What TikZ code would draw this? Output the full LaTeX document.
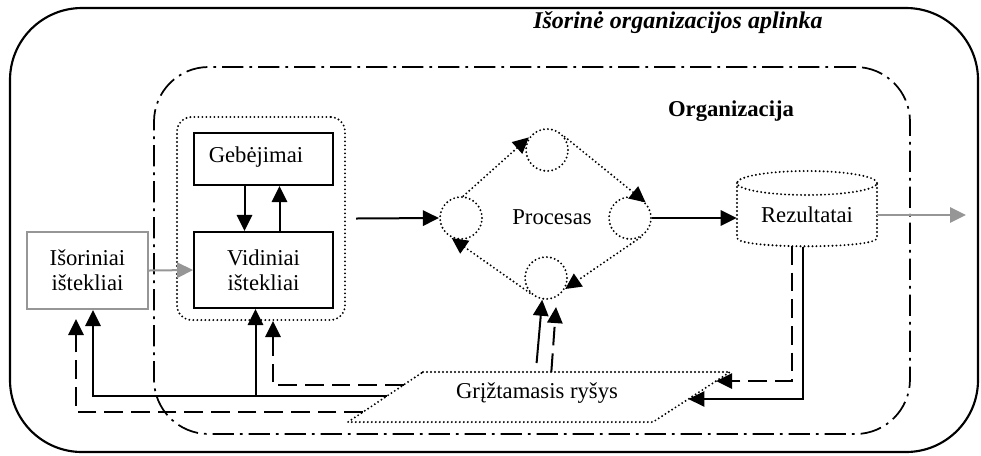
\documentclass[tikz,border=0pt]{standalone}
\usepackage{fontspec}
\setmainfont{Liberation Serif}
\usetikzlibrary{arrows.meta,calc}
\definecolor{midgrey}{RGB}{150,150,150}
\begin{document}
\begin{tikzpicture}[x=0.75pt,y=-0.75pt,
  every node/.style={font=\fontsize{17}{18.75}\selectfont, inner sep=0pt},
  frame/.style={draw, line width=1.6pt, rounded corners=54pt},
  orgframe/.style={draw, line width=1.3pt, rounded corners=41pt,
                   dash pattern=on 16pt off 4.5pt on 2pt off 4.5pt},
  dotline/.style={line width=1.6pt, line cap=round, dash pattern=on 0pt off 3pt},
  dotbox/.style={draw, dotline},
  solidbox/.style={draw, line width=1.6pt, align=center},
  greybox/.style={draw=midgrey, line width=1.6pt, align=center},
  circ/.style={draw, dotline, circle, minimum size=31.5pt},
  tip/.style={-{Triangle[length=12pt,width=11.5pt]}},
  arr/.style={tip, line width=1.5pt},
  darr/.style={arr, dash pattern=on 14pt off 6pt},
  greyarr/.style={arr, draw=midgrey},
  dotarr/.style={tip, dotline}
]
\useasboundingbox (0,0) rectangle (981,455);

% environment and organisation frames
\node[frame, minimum width=726pt, minimum height=333pt] (env) at (494,230) {};
\node[orgframe, minimum width=567pt, minimum height=275.25pt] (org) at (532,250.5) {};
\node[anchor=base, font=\fontsize{18}{20}\selectfont\bfseries\itshape] (envlabel) at (678,28) {Išorinė organizacijos aplinka};
\node[anchor=base, font=\fontsize{17}{20}\selectfont\bfseries] (orglabel) at (731,116) {Organizacija};

% resources
\node[dotbox, rounded corners=11pt, minimum width=126pt, minimum height=152.25pt] (grp) at (261,218.5) {};
\node[solidbox, minimum width=104pt, minimum height=39pt] (geb) at (263.5,159) {};
\node[anchor=base] (gebtext) at (256,162) {Gebėjimai};
\node[solidbox, minimum width=104pt, minimum height=57pt] (vid) at (263.5,270) {Vidiniai\\ištekliai};
\node[greybox, minimum width=90.75pt, minimum height=57.75pt] (isor) at (87.5,270.5) {Išoriniai\\ištekliai};

\draw[arr] ($(geb.south)+(-19,0)$) -- ($(vid.north)+(-19,0)$);
\draw[arr] ($(vid.north)+(16,0)$) -- ($(geb.south)+(16,0)$);
\draw[greyarr] (isor.east) -- (vid.west);

% process cycle
\node[circ] (pL) at (461,218) {};
\node[circ] (pT) at (547,150) {};
\node[circ] (pR) at (630,218) {};
\node[circ] (pB) at (546,278) {};
\node (proc) at (552,217) {Procesas};
\draw[dotarr] (pL.84) -- (pT.145);
\draw[dotarr] (pT.37) -- (pR.45);
\draw[dotarr] (pR.-62) -- (pB.-30);
\draw[dotarr] (pB.-137) -- (pL.-115);
\draw[arr] ($(grp.east)+(10,0)$) -- (pL.west);

% results store
\node[minimum width=105pt] (rez) at (807,215) {Rezultatai};
\draw[dotline] (807,183) ellipse [x radius=52.5pt, y radius=9pt];
\draw[dotline] (737,183) -- (737,238) .. controls (737,249) and (877,249) .. (877,238) -- (877,183);
\draw[arr] (pR.east) -- (pR.east -| rez.west);
\coordinate (out) at (966,215);
\draw[greyarr] (rez.east) -- (out);

% feedback
\coordinate (fbTL) at (423,372);
\coordinate (fbTR) at (730,372);
\coordinate (fbBR) at (653,422);
\coordinate (fbBL) at (348,422);
\draw[dotline] (fbTL) -- (fbTR) -- (fbBR) -- (fbBL) -- cycle;
\node[anchor=base] (fb) at (537,398) {Grįžtamasis ryšys};

\coordinate (fbL1) at ($(fbBL)!0.74!(fbTL)$);
\coordinate (fbL2) at ($(fbBL)!0.52!(fbTL)$);
\coordinate (fbL3) at ($(fbBL)!0.2!(fbTL)$);
\coordinate (isTip1) at ($(isor.south)+(5.5,0)$);
\coordinate (isTip2) at ($(isor.south)+(-11.5,9)$);
\coordinate (vidTip) at ($(vid.south)+(-8,0)$);
\coordinate (grpTip) at ($(grp.south)+(12,0)$);
\draw[arr] (fbL2) -| (isTip1);
\draw[arr] (fbL2 -| vidTip) -- (vidTip);
\draw[darr] (fbL1) -| (grpTip);
\draw[darr] (fbL3) -| (isTip2);

\coordinate (fbT1) at ($(fbTL)!0.37!(fbTR)+(0,-9)$);
\coordinate (fbT2) at ($(fbTL)!0.418!(fbTR)$);
\coordinate (pBin) at ($(pB.south)+(10,7)$);
\draw[arr] (fbT1) -- (pB.260);
\draw[darr] (fbT2) -- (pBin);

\coordinate (rezD) at (792,246);
\coordinate (rezS) at (803,247);
\coordinate (fbR1) at ($(fbBR)!0.82!(fbTR)$);
\coordinate (fbR2) at ($(fbBR)!0.46!(fbTR)$);
\draw[darr] (rezD) |- (fbR1);
\draw[arr] (rezS) |- (fbR2);
\end{tikzpicture}
\end{document}
